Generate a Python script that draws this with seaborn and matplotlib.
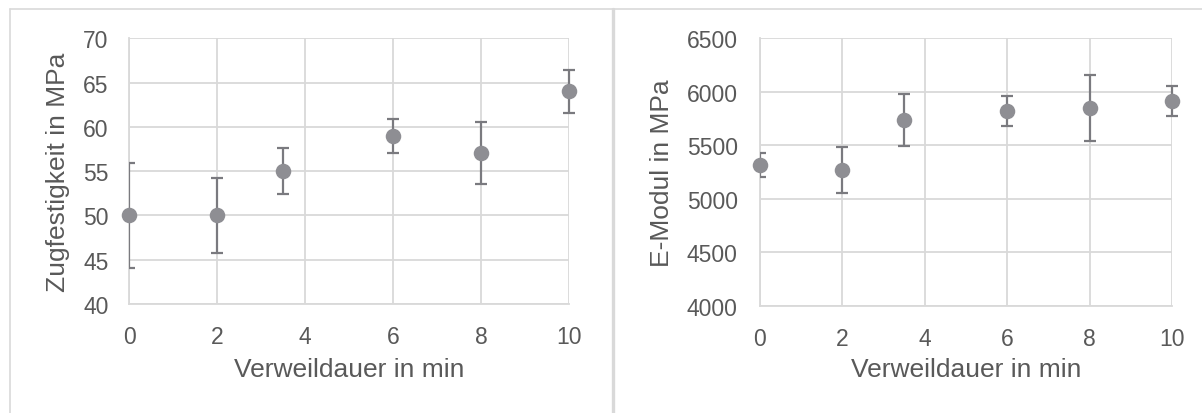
import matplotlib
matplotlib.use("Agg")
import matplotlib.pyplot as plt
from matplotlib.lines import Line2D
from matplotlib.patches import Rectangle
import seaborn as sns
import pandas as pd

# Verweildauer (min) and measured properties with standard deviation
dauer = [0, 2, 3.5, 6, 8, 10]
zugfestigkeit = [50, 50, 55, 59, 57, 64]
zugfestigkeit_sd = [5.9, 4.2, 2.6, 1.9, 3.5, 2.4]
emodul = [5317, 5268, 5737, 5822, 5849, 5910]
emodul_sd = [108, 213, 245, 140, 307, 140]

x_ticks = [0, 2, 4, 6, 8, 10]
zug_ticks = [40, 45, 50, 55, 60, 65, 70]
emod_ticks = [4000, 4500, 5000, 5500, 6000, 6500]

sns.set_theme(style="white")
plt.rcParams["font.family"] = ["Liberation Sans", "DejaVu Sans"]

TEXT = "#595959"
GRID = "#d9d9d9"
MARK = "#8e8e93"
ERR = "#7a7a7f"
LABEL_SIZE = 19
TICK_SIZE = 16.5

W, H = 1202, 414
fig = plt.figure(figsize=(W / 100, H / 100), dpi=100)
fig.patch.set_facecolor("white")


def px_axes(left, top, right, bottom):
    return fig.add_axes([left / W, 1 - bottom / H, (right - left) / W, (bottom - top) / H])


def style(ax, yticks, ypad):
    ax.set_xlim(0, 10)
    ax.set_ylim(yticks[0], yticks[-1])
    ax.set_xticks(x_ticks)
    ax.set_yticks(yticks)
    ax.grid(True, color=GRID, linewidth=1.3)
    ax.set_axisbelow(True)
    for side, sp in ax.spines.items():
        if side in ("left", "bottom"):
            sp.set_color(GRID)
            sp.set_linewidth(1.3)
        else:
            sp.set_visible(False)
    ax.tick_params(axis="both", length=0, labelsize=TICK_SIZE, labelcolor=TEXT)
    ax.tick_params(axis="x", pad=15)
    ax.tick_params(axis="y", pad=ypad)


def draw(ax, y, sd):
    df = pd.DataFrame({"dauer": dauer, "wert": y})
    eb = ax.errorbar(dauer, y, yerr=sd, fmt="none", ecolor=ERR, elinewidth=1.6,
                     capsize=4.4, capthick=1.6, zorder=3)
    # error bars are cut at the value axis but may extend past the right edge
    clip = Rectangle((0, -0.2), 1.2, 1.4, transform=ax.transAxes)
    for part in eb.lines[1] + eb.lines[2]:
        part.set_clip_path(clip)
    sns.scatterplot(data=df, x="dauer", y="wert", ax=ax, s=125, color=MARK,
                    edgecolor=MARK, linewidth=0, zorder=4, legend=False,
                    clip_on=False)


# Zugfestigkeit
ax1 = px_axes(129.3, 39.3, 569.3, 305)
draw(ax1, zugfestigkeit, zugfestigkeit_sd)
style(ax1, zug_ticks, 15)
ax1.set_xlabel("Verweildauer in min", fontsize=LABEL_SIZE, color=TEXT)
ax1.set_ylabel("Zugfestigkeit in MPa", fontsize=LABEL_SIZE, color=TEXT)
ax1.xaxis.label.set_va("center")
ax1.yaxis.label.set_va("center")
ax1.xaxis.set_label_coords(0.5, (305 - 370) / 265.7)
ax1.yaxis.set_label_coords((58 - 129.3) / 440, 0.5)

# E-Modul
ax2 = px_axes(760, 39.3, 1172, 307)
draw(ax2, emodul, emodul_sd)
style(ax2, emod_ticks, 16)
ax2.set_xlabel("Verweildauer in min", fontsize=LABEL_SIZE, color=TEXT)
ax2.set_ylabel("E-Modul in MPa", fontsize=LABEL_SIZE, color=TEXT)
ax2.xaxis.label.set_va("center")
ax2.yaxis.label.set_va("center")
ax2.xaxis.set_label_coords(0.5, (307 - 370) / 267.7)
ax2.yaxis.set_label_coords((662 - 760) / 412, 0.5)

# chart frames
frame = "#d9d9d9"
fig.add_artist(Line2D([10 / W, 1], [1 - 10 / H, 1 - 10 / H], color=frame, lw=1.2,
                      transform=fig.transFigure))
fig.add_artist(Line2D([10 / W, 10 / W], [0, 1 - 10 / H], color=frame, lw=1.2,
                      transform=fig.transFigure))
fig.add_artist(Line2D([612.5 / W, 612.5 / W], [0, 1 - 10 / H], color=frame, lw=2.4,
                      transform=fig.transFigure))

fig.savefig("out.png", dpi=100, facecolor="white")
